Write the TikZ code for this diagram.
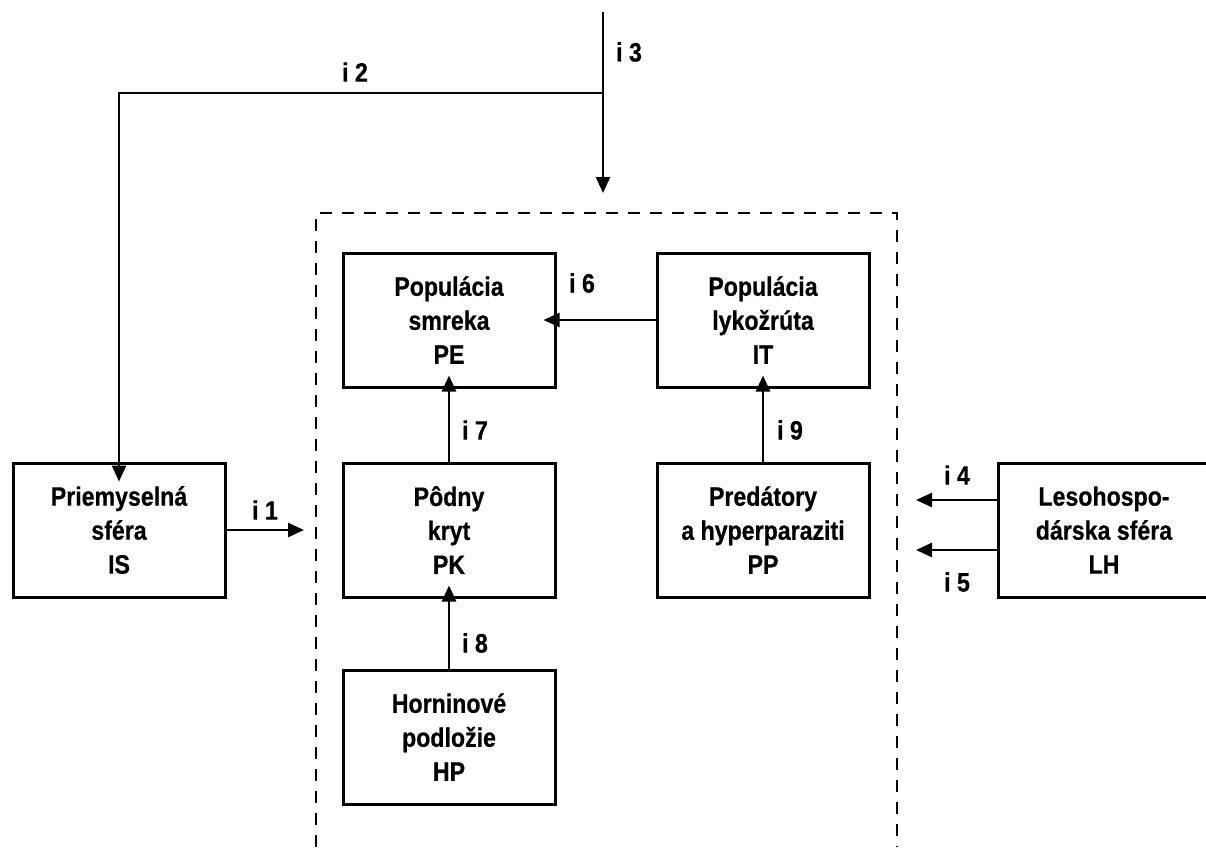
\documentclass[tikz,border=0pt]{standalone}
\usepackage{fontspec}
\setmainfont{Liberation Sans}[FakeStretch=0.87,BoldFeatures={FakeBold=0.6}]
\usetikzlibrary{arrows.meta}

\begin{document}
\begin{tikzpicture}[x=1pt,y=-1pt,
  txt/.style={font=\fontsize{26.6}{34}\bfseries\selectfont},
  blok/.style={txt,draw,line width=3pt,minimum width=212pt,minimum height=134pt,
    align=center,inner sep=0pt},
  sip/.style={line width=2.7pt,-{Triangle[length=16pt,width=14pt]}},
  lbl/.style={txt,inner sep=0pt}]
\useasboundingbox (0,0) rectangle (1206,847);
\clip (0,0) rectangle (1206,847);

% system boundary (open at the bottom)
\draw[line width=2.8pt,dash pattern=on 12pt off 10pt]
  (316,847) -- (316,213) -- (897,213) -- (897,847);

% blocks
\node[blok] (PE) at (449,320) {Populácia\\smreka\\PE};
\node[blok] (IT) at (763,320) {Populácia\\lykožrúta\\IT};
\node[blok] (PK) at (449,530) {Pôdny\\kryt\\PK};
\node[blok] (PP) at (763,530) {Predátory\\a hyperparaziti\\PP};
\node[blok] (HP) at (449,737) {Horninové\\podložie\\HP};
\node[blok] (IS) at (119,530) {Priemyselná\\sféra\\IS};
\node[blok] (LH) at (1104,530) {Lesohospo-\\dárska sféra\\LH};

% free ends of the connectors
\coordinate (top) at (603,12);
\coordinate (split) at (603,93);
\coordinate (sysIn) at (603,193);
\coordinate (in1) at (304,530);
\coordinate (in4) at (916,500);
\coordinate (in5) at (916,550);

% connectors
\draw[line width=2.3pt] (top) -- (split);
\draw[sip] (split) -- (sysIn);
\draw[sip] (split) -| ([yshift=-20pt]IS.north);
\draw[sip] (IS.east) -- (in1);
\draw[sip] (IT.west) -- ([xshift=-13pt]PE.east);
\draw[sip] (PK.north) -- ([yshift=13pt]PE.south);
\draw[sip] (PP.north) -- ([yshift=13pt]IT.south);
\draw[sip] (HP.north) -- ([yshift=13pt]PK.south);
\draw[sip] (LH.west |- in4) -- (in4);
\draw[sip] (LH.west |- in5) -- (in5);

% labels
\node[lbl] at (355,72) {i 2};
\node[lbl] at (629,52) {i 3};
\node[lbl] at (265,510) {i 1};
\node[lbl] at (957,475) {i 4};
\node[lbl] at (957,582) {i 5};
\node[lbl] at (582,283) {i 6};
\node[lbl] at (475,430) {i 7};
\node[lbl] at (475,643) {i 8};
\node[lbl] at (790,430) {i 9};
\end{tikzpicture}
\end{document}
